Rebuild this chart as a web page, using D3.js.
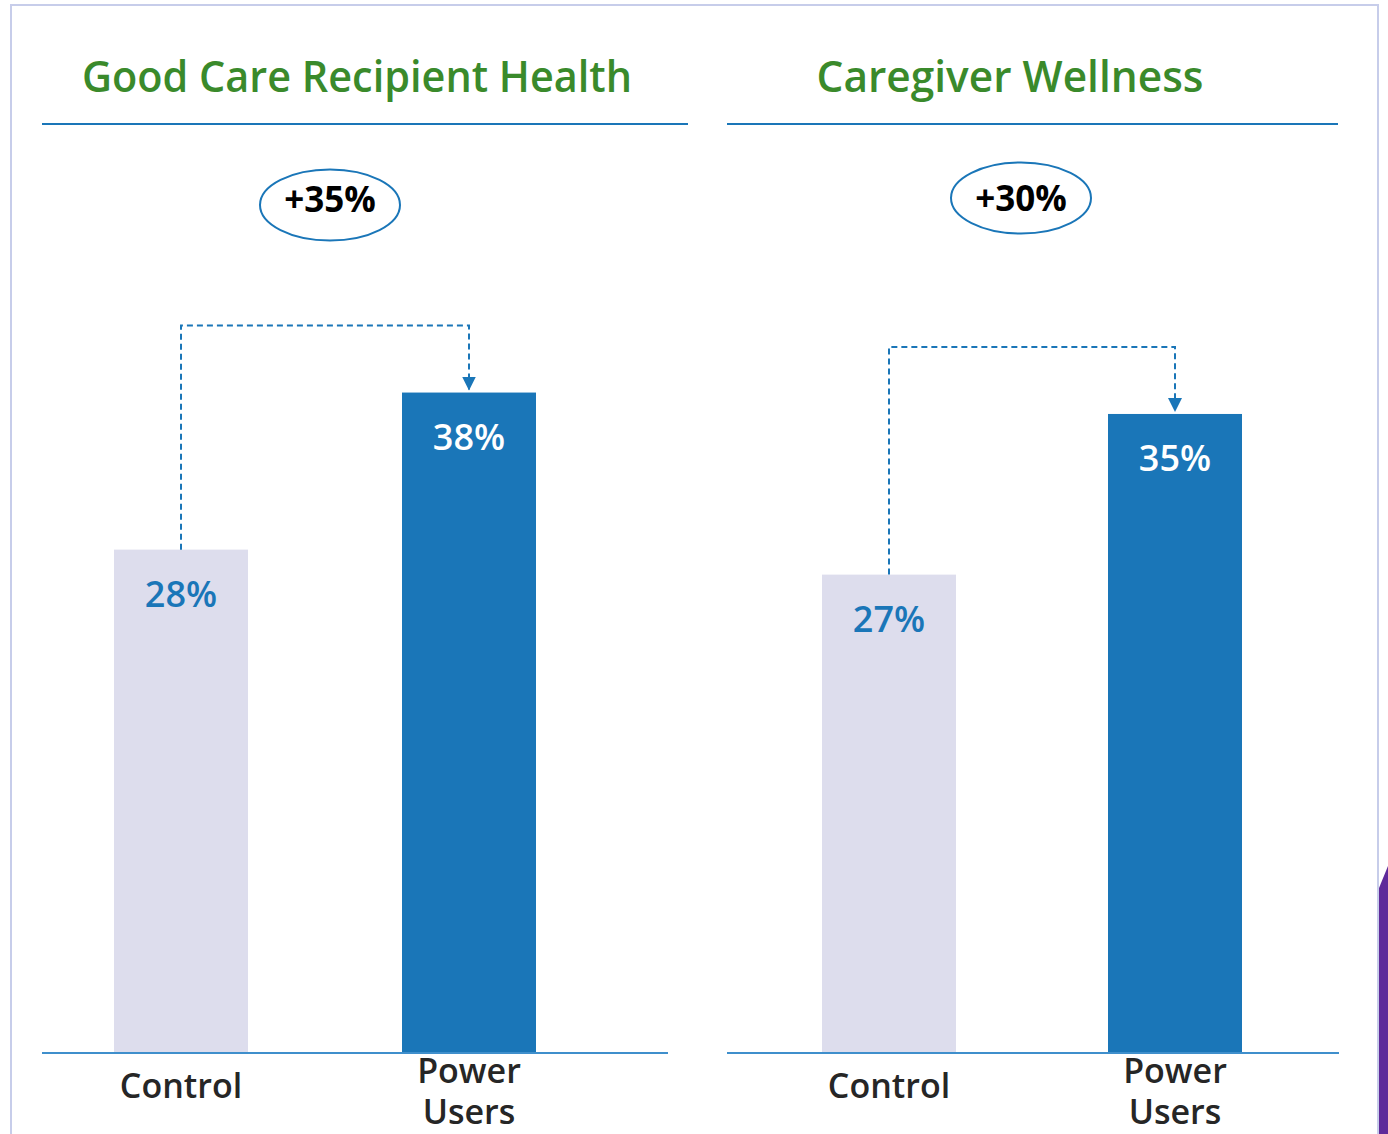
<!DOCTYPE html>
<html>
<head>
<meta charset="utf-8">
<script src="https://cdn.jsdelivr.net/npm/d3@7"></script>
<style>
  html, body { margin: 0; padding: 0; background: #ffffff; }
  svg { display: block; }
</style>
</head>
<body>
<svg id="chart" width="1388" height="1134"></svg>
<script>
// ---- data ----
const panelTitles = ["Good Care Recipient Health", "Caregiver Wellness"];
const categories = ["Control", "Power Users"];
const controlValues = [28.2, 26.8];   // bar heights
const powerValues = [37.0, 35.8];
const controlLabels = ["28%", "27%"];
const powerLabels = ["38%", "35%"];
const changeLabels = ["+35%", "+30%"];

// ---- layout ----
const W = 1388, H = 1134;
const baseY = 1053;
const barW = 134;
const panels = [
  { xRange: [181, 469], line: [42, 668], rule: [42, 688], titleX: 357, titleW: 550, ell: [330, 205], tdy: 7 },
  { xRange: [889, 1175], line: [727, 1339], rule: [727, 1338], titleX: 1010, titleW: 387, ell: [1021, 198], tdy: 13 }
];
const blue = "#1a76b8";
const light = "#dddded";
const font = "'Open Sans', 'Noto Sans', sans-serif";

const svg = d3.select("#chart");
const y = d3.scaleLinear().domain([0, 40]).range([baseY, baseY - 40 * 17.85]);

// outer border
svg.append("rect").attr("x", 11).attr("y", 5).attr("width", 1367).attr("height", H + 10)
  .attr("fill", "none").attr("stroke", "#c7cdea").attr("stroke-width", 2);

// purple cropped shape at right edge
svg.append("path").attr("d", "M1379,888 L1388,866 L1388,1134 L1379,1134 Z").attr("fill", "#5f2a9a");

svg.append("defs").append("marker")
  .attr("id", "arrow").attr("viewBox", "0 0 10 10").attr("refX", 10).attr("refY", 5)
  .attr("markerWidth", 7).attr("markerHeight", 7.5).attr("markerUnits", "strokeWidth")
  .attr("orient", "auto")
  .append("path").attr("d", "M0,0 L10,5 L0,10 Z").attr("fill", blue);

panels.forEach((p, i) => {
  const g = svg.append("g");
  const x = d3.scalePoint().domain(categories).range(p.xRange);
  const vals = [controlValues[i], powerValues[i]];
  const labs = [controlLabels[i], powerLabels[i]];

  // title
  g.append("text").attr("x", p.titleX).attr("y", 92).attr("text-anchor", "middle")
    .attr("font-family", font).attr("font-size", 43).attr("font-weight", 600)
    .attr("fill", "#3a8a2b").attr("textLength", p.titleW).attr("lengthAdjust", "spacingAndGlyphs")
    .text(panelTitles[i]);
  g.append("line").attr("x1", p.rule[0]).attr("x2", p.rule[1]).attr("y1", 124).attr("y2", 124)
    .attr("stroke", blue).attr("stroke-width", 2);

  // bars
  g.selectAll("rect.bar").data(categories).join("rect").attr("class", "bar")
    .attr("x", d => x(d) - barW / 2).attr("width", barW)
    .attr("y", (d, j) => y(vals[j])).attr("height", (d, j) => baseY - y(vals[j]))
    .attr("fill", (d, j) => j === 0 ? light : blue);

  // value labels
  g.selectAll("text.val").data(categories).join("text").attr("class", "val")
    .attr("x", d => x(d)).attr("y", (d, j) => y(vals[j]) + 57)
    .attr("text-anchor", "middle").attr("font-family", font).attr("font-size", 36).attr("font-weight", 600)
    .attr("fill", (d, j) => j === 0 ? blue : "#ffffff")
    .text((d, j) => labs[j]);

  // baseline
  g.append("line").attr("x1", p.line[0]).attr("x2", p.line[1]).attr("y1", baseY).attr("y2", baseY)
    .attr("stroke", "#3f8fcc").attr("stroke-width", 2);

  // category labels
  categories.forEach(c => {
    const words = c.split(" ");
    const t = g.append("text").attr("text-anchor", "middle").attr("font-family", font)
      .attr("font-size", 34).attr("font-weight", 600).attr("fill", "#262626");
    if (words.length === 1) {
      t.append("tspan").attr("x", x(c)).attr("y", 1098).text(c);
    } else {
      words.forEach((w, k) => t.append("tspan").attr("x", x(c)).attr("y", 1083 + k * 41).text(w));
    }
  });

  // dashed connector
  const cx0 = x(categories[0]), cx1 = x(categories[1]);
  const topY = y(vals[1]) - 67;
  g.append("path")
    .attr("d", `M${cx0},${y(vals[0])} L${cx0},${topY} L${cx1},${topY} L${cx1},${y(vals[1]) - 2}`)
    .attr("fill", "none").attr("stroke", blue).attr("stroke-width", 2)
    .attr("stroke-dasharray", "6,4").attr("marker-end", "url(#arrow)");

  // change ellipse
  g.append("ellipse").attr("cx", p.ell[0]).attr("cy", p.ell[1]).attr("rx", 70).attr("ry", 35.5)
    .attr("fill", "none").attr("stroke", blue).attr("stroke-width", 2);
  g.append("text").attr("x", p.ell[0]).attr("y", p.ell[1] + p.tdy)
    .attr("text-anchor", "middle").attr("font-family", font).attr("font-size", 35).attr("font-weight", 700)
    .attr("fill", "#000000").text(changeLabels[i]);
});
</script>
</body>
</html>
